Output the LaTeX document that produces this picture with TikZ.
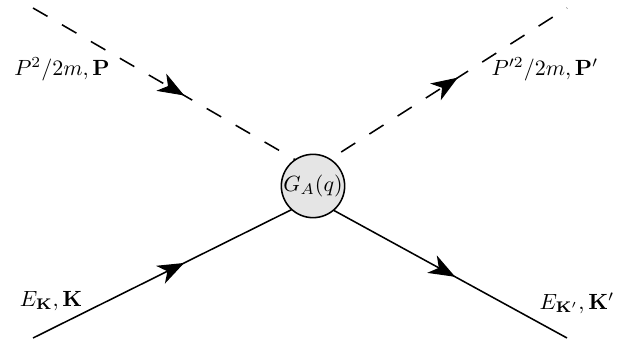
\documentclass[tikz,border=0pt]{standalone}
\usetikzlibrary{arrows.meta,decorations.markings}
\begin{document}
\begin{tikzpicture}[x=0.4545pt,y=-0.4545pt,
  prop/.style={line width=0.7pt},
  ghost/.style={prop,dash pattern=on 7.6pt off 7.6pt},
  midarrow/.style={decoration={markings,mark=at position #1 with {\arrow{Stealth[length=12pt,width=9pt,inset=3.5pt]}}},postaction={decorate}},
  vertexnode/.style={circle,draw,line width=0.7pt,fill=black!10,minimum size=28.2pt,inner sep=0pt},
  lab/.style={inner sep=0pt}]
\useasboundingbox (0,0) rectangle (626,344);
\coordinate (tl) at (33,8);
\coordinate (tr) at (567,8);
\coordinate (bl) at (33,338);
\coordinate (br) at (567,338);
\coordinate (vt) at (313,170);
\coordinate (vb) at (313,199);
\draw[ghost] (tl) -- (vt);
\path[midarrow=0.54] (tl) -- (vt);
\draw[ghost] (vt) -- (tr);
\path[midarrow=0.57] (vt) -- (tr);
\draw[prop,midarrow=0.54] (bl) -- (vb);
\draw[prop,midarrow=0.56] (vb) -- (br);
\node[vertexnode] (G) at (313,186) {$G_A(q)$};
\node[lab] (pin) at (62,69) {$P^2/2m,\mathbf{P}$};
\node[lab] (pout) at (545,69) {$P'^2/2m,\mathbf{P}'$};
\node[lab] (kin) at (51,301) {$E_{\mathbf{K}},\mathbf{K}$};
\node[lab] (kout) at (577,303) {$E_{\mathbf{K}'},\mathbf{K}'$};
\end{tikzpicture}
\end{document}
